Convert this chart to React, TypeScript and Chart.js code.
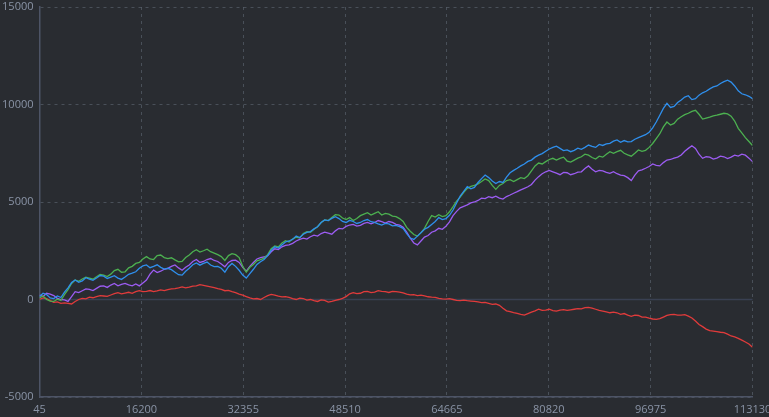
import React, { useEffect, useRef } from "react";
import { Chart, registerables } from "chart.js";

Chart.register(...registerables);

const X_MIN = 45;
const X_MAX = 113130;
const xTicks = [45, 16200, 32355, 48510, 64665, 80820, 96975, 113130];
const yTicks = [-5000, 0, 5000, 10000, 15000];

const blueSeries = [
  150, 320, 250, 80, 50, 180, 100, 380, 600, 870, 1000, 880, 950, 1120, 1050, 980, 1100, 1230, 1200, 1080,
  1150, 1220, 1100, 1030, 1150, 1290, 1350, 1420, 1600, 1720, 1770, 1630, 1700, 1780, 1650, 1560, 1600, 1530, 1400, 1270,
  1250, 1450, 1600, 1780, 1870, 1760, 1850, 1920, 1770, 1690, 1700, 1600, 1400, 1680, 1850, 1700, 1500, 1250, 1100, 1330,
  1550, 1800, 1940, 2050, 2250, 2520, 2700, 2640, 2800, 2950, 3000, 3080, 3250, 3180, 3350, 3440, 3480, 3620, 3730, 3950,
  4080, 4050, 4160, 4250, 4150, 4000, 3950, 4060, 4000, 3900, 3950, 4050, 4100, 3990, 3950, 3880, 3820, 3900, 3880, 3780,
  3800, 3740, 3650, 3380, 3150, 3080, 3250, 3420, 3600, 3700, 3850, 4000, 4200, 4100, 4150, 4320, 4590, 4950, 5300, 5550,
  5790, 5680, 5750, 6000, 6200, 6380, 6250, 6080, 5950, 6050, 6000, 6280, 6500, 6620, 6730, 6850, 6950, 7080, 7150, 7300,
  7400, 7480, 7600, 7720, 7800, 7860, 7750, 7640, 7670, 7580, 7650, 7760, 7700, 7800, 7920, 7850, 7800, 7950, 7900, 7980,
  8010, 8120, 8180, 8060, 8150, 8080, 8100, 8220, 8300, 8380, 8450, 8580, 8800, 9100, 9450, 9800, 10060, 9850, 9900, 10100,
  10230, 10380, 10450, 10250, 10300, 10480, 10600, 10680, 10800, 10900, 10950, 11080, 11170, 11250, 11150, 10950, 10700, 10550, 10500, 10420,
  10300,
];

const greenSeries = [
  80, 180, 0, -80, -100, 20, -50, 250, 500, 820, 1000, 930, 1050, 1150, 1100, 1040, 1170, 1280, 1250, 1180,
  1300, 1480, 1550, 1400, 1420, 1620, 1700, 1850, 1900, 2080, 2200, 2080, 2050, 2250, 2280, 2150, 2100, 2140, 2030, 1930,
  1950, 2150, 2280, 2450, 2550, 2430, 2500, 2580, 2450, 2380, 2300, 2200, 2000, 2250, 2350, 2300, 2150, 1700, 1400, 1650,
  1800, 1980, 2050, 2120, 2300, 2600, 2750, 2700, 2900, 3020, 2950, 3100, 3200, 3150, 3380, 3480, 3450, 3600, 3730, 3950,
  4080, 4050, 4200, 4350, 4330, 4180, 4100, 4200, 4050, 4150, 4300, 4380, 4450, 4330, 4420, 4500, 4330, 4420, 4380, 4280,
  4250, 4150, 4000, 3700, 3500, 3330, 3250, 3430, 3650, 4000, 4300, 4230, 4350, 4250, 4300, 4500, 4760, 5050, 5250, 5500,
  5700, 5800, 5850, 5930, 6050, 6180, 6100, 5850, 5650, 5850, 5950, 6100, 6150, 6050, 6150, 6250, 6200, 6350, 6600, 6850,
  7000, 6950, 7070, 7180, 7240, 7150, 7240, 7300, 7100, 7050, 7150, 7250, 7320, 7450, 7400, 7280, 7200, 7350, 7300, 7450,
  7580, 7500, 7580, 7650, 7500, 7420, 7350, 7500, 7670, 7600, 7650, 7800, 8000, 8250, 8500, 8850, 9100, 8950, 9030, 9250,
  9370, 9480, 9550, 9650, 9700, 9500, 9250, 9300, 9350, 9420, 9450, 9500, 9550, 9520, 9400, 9150, 8780, 8550, 8300, 8100,
  7900,
];

const purpleSeries = [
  230, 150, 320, 280, 200, 60, 0, -20, -100, 150, 400, 350, 450, 540, 520, 460, 570, 680, 700, 620,
  740, 820, 700, 780, 830, 750, 700, 800, 700, 850, 1000, 1300, 1510, 1380, 1450, 1550, 1600, 1700, 1770, 1620,
  1500, 1650, 1770, 1950, 2050, 1900, 1950, 2050, 2100, 2000, 1950, 1820, 1680, 1900, 2000, 2020, 1900, 1650, 1450, 1700,
  1900, 2080, 2150, 2180, 2250, 2450, 2600, 2560, 2700, 2780, 2800, 2880, 3000, 3080, 3150, 3100, 3220, 3300, 3250, 3380,
  3450, 3400, 3350, 3520, 3650, 3620, 3750, 3820, 3850, 3760, 3800, 3900, 3950, 3880, 3950, 4050, 3990, 3920, 4000, 3950,
  3850, 3820, 3700, 3450, 3150, 2900, 2800, 3000, 3200, 3280, 3450, 3520, 3650, 3600, 3750, 3980, 4300, 4520, 4700, 4780,
  4850, 4950, 5000, 5080, 5200, 5170, 5270, 5220, 5300, 5200, 5150, 5280, 5360, 5450, 5530, 5620, 5700, 5780, 5900, 6120,
  6300, 6450, 6550, 6620, 6550, 6480, 6400, 6520, 6500, 6400, 6450, 6530, 6550, 6720, 6850, 6680, 6550, 6620, 6600, 6520,
  6470, 6550, 6450, 6380, 6350, 6250, 6100, 6380, 6600, 6650, 6730, 6820, 6950, 6880, 6850, 7020, 7150, 7180, 7250, 7300,
  7410, 7600, 7750, 7880, 7750, 7450, 7240, 7320, 7300, 7200, 7250, 7350, 7320, 7230, 7300, 7400, 7350, 7450, 7400, 7250,
  7070,
];

const redSeries = [
  0, 80, 50, -60, -150, -120, -200, -170, -200, -230, -100, 0, 60, 30, 120, 90, 150, 200, 180, 160,
  230, 300, 350, 290, 330, 370, 320, 400, 450, 400, 420, 460, 400, 440, 490, 460, 510, 540, 560, 600,
  650, 600, 640, 690, 700, 760, 730, 690, 650, 610, 560, 520, 450, 470, 400, 350, 280, 220, 150, 80,
  30, 50, 0, 100, 200, 260, 230, 170, 130, 150, 110, 40, 0, 70, 50, -30, 0, -60, -100, -20,
  -50, -130, -100, -40, 0, 60, 150, 290, 350, 300, 320, 400, 420, 350, 380, 450, 420, 400, 360, 420,
  400, 380, 340, 280, 240, 250, 200, 220, 180, 140, 120, 110, 60, 30, 20, 40, 0, -50, -60, -30,
  -60, -80, -100, -120, -160, -150, -200, -250, -230, -300, -450, -580, -620, -670, -710, -760, -800, -720, -650, -580,
  -500, -560, -550, -500, -570, -600, -540, -520, -560, -530, -500, -470, -480, -420, -400, -440, -500, -560, -600, -640,
  -680, -650, -680, -760, -720, -800, -860, -800, -820, -900, -900, -960, -1000, -1020, -980, -900, -820, -780, -760, -800,
  -800, -780, -850, -950, -1100, -1280, -1390, -1520, -1600, -1620, -1650, -1680, -1700, -1780, -1870, -1920, -1990, -2080, -2180, -2280,
  -2450,
];

const toPoints = (values: number[]) =>
  values.map((y, i) => ({
    x: X_MIN + ((X_MAX - X_MIN) * i) / (values.length - 1),
    y,
  }));

const zeroLinePlugin = {
  id: "zeroLine",
  beforeDatasetsDraw(chart: any) {
    const y = chart.scales.y;
    const area = chart.chartArea;
    const py = y.getPixelForValue(0);
    const ctx = chart.ctx;
    ctx.save();
    ctx.strokeStyle = "#394052";
    ctx.lineWidth = 1.5;
    ctx.beginPath();
    ctx.moveTo(area.left, py);
    ctx.lineTo(area.right, py);
    ctx.stroke();
    ctx.restore();
  },
};

export default function App() {
  const canvasRef = useRef<HTMLCanvasElement | null>(null);

  useEffect(() => {
    const canvas = canvasRef.current;
    if (!canvas) return;
    const tickColor = "#8a94a6";
    const gridColor = "rgba(120,130,145,0.42)";
    const borderColor = "#4d5466";
    const font = { family: "'Open Sans', sans-serif", size: 11 };
    const line = (label: string, color: string, values: number[]) => ({
      label,
      data: toPoints(values),
      borderColor: color,
      backgroundColor: color,
      borderWidth: 1.3,
      pointRadius: 0,
      tension: 0,
      fill: false,
    });
    const chart = new Chart(canvas, {
      type: "line",
      data: {
        datasets: [
          line("blue", "#2f8fec", blueSeries),
          line("green", "#4cb050", greenSeries),
          line("purple", "#9c5cf2", purpleSeries),
          line("red", "#e03b3b", redSeries),
        ],
      },
      plugins: [zeroLinePlugin],
      options: {
        animation: false,
        responsive: false,
        maintainAspectRatio: false,
        layout: { padding: 0 },
        plugins: {
          legend: { display: false },
          tooltip: { enabled: false },
        },
        scales: {
          x: {
            type: "linear",
            min: X_MIN,
            max: X_MAX,
            afterBuildTicks: (scale: any) => {
              scale.ticks = xTicks.map((v) => ({ value: v }));
            },
            afterFit: (scale: any) => {
              scale.height = 20;
              scale.paddingRight = 16.5;
              scale.paddingLeft = 0;
            },
            ticks: {
              color: tickColor,
              font,
              padding: 6,
              autoSkip: false,
              maxRotation: 0,
              callback: (v: any) => String(v),
            },
            grid: {
              color: gridColor,
              drawTicks: false,
            },
            border: { color: borderColor, width: 1.5, dash: [3, 4] },
          },
          y: {
            type: "linear",
            min: -5000,
            max: 15000,
            afterBuildTicks: (scale: any) => {
              scale.ticks = yTicks.map((v) => ({ value: v }));
            },
            afterFit: (scale: any) => {
              scale.width = 39.5;
              scale.paddingTop = 7;
              scale.paddingBottom = 0;
            },
            ticks: {
              color: tickColor,
              font,
              padding: 6,
              callback: (v: any) => String(v),
            },
            grid: {
              color: (ctx: any) =>
                ctx.tick && ctx.tick.value === 0 ? "rgba(0,0,0,0)" : gridColor,
              drawTicks: false,
            },
            border: { color: borderColor, width: 1.5, dash: [3, 4] },
          },
        },
      },
    } as any);
    return () => chart.destroy();
  }, []);

  return (
    <div
      style={{
        position: "fixed",
        left: 0,
        top: 0,
        width: 769,
        height: 417,
        background: "#292c31",
      }}
    >
      <canvas ref={canvasRef} width={769} height={417} style={{ display: "block" }} />
    </div>
  );
}
